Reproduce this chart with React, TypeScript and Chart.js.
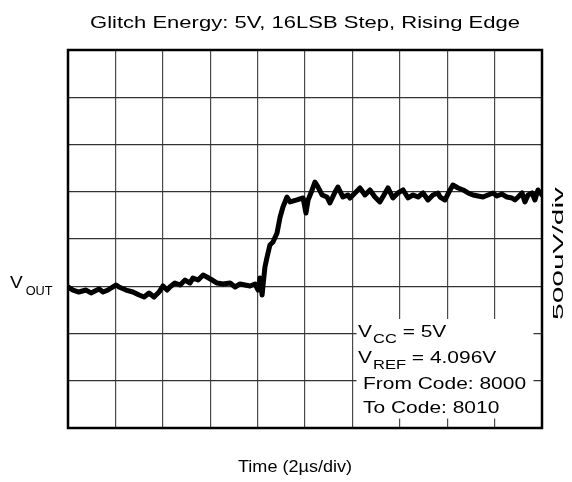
import React, { useEffect, useRef } from "react";
import { Chart, registerables } from "chart.js";

Chart.register(...registerables);

// Time axis in µs (2 µs/div), voltage in µV (500 µV/div)
const timeUs: number[] = [
  0.0, 0.21, 0.46, 0.76, 0.97, 1.31, 1.48, 1.69, 1.81, 2.03, 2.15, 2.45, 2.74, 3.0, 3.21, 3.42, 3.63, 3.84,
  4.01, 4.18, 4.3, 4.51, 4.73, 4.94, 5.15, 5.27, 5.49, 5.7, 5.86, 6.08, 6.29, 6.54, 6.84, 7.05, 7.26, 7.47,
  7.68, 7.89, 8.02, 8.1, 8.19, 8.23, 8.31, 8.4, 8.52, 8.65, 8.82, 8.95, 9.07, 9.24, 9.37, 9.66, 9.92, 10.04,
  10.13, 10.3, 10.42, 10.55, 10.72, 10.93, 11.05, 11.27, 11.39, 11.6, 11.81, 11.9, 12.11, 12.32, 12.53, 12.74,
  12.95, 13.16, 13.38, 13.5, 13.71, 13.92, 14.14, 14.35, 14.56, 14.77, 14.98, 15.19, 15.4, 15.61, 15.7, 15.91,
  16.12, 16.24, 16.46, 16.67, 16.88, 17.09, 17.3, 17.51, 17.72, 17.93, 18.1, 18.31, 18.52, 18.73, 18.86, 18.99,
  19.16, 19.28, 19.41, 19.58, 19.7, 19.83, 20.0,
];
const voutUv: number[] = [
  -508, -540, -561, -540, -571, -529, -561, -540, -519, -487, -508, -540, -561, -593, -614, -571, -614, -561,
  -497, -540, -508, -466, -487, -434, -466, -413, -434, -381, -402, -434, -466, -476, -466, -508, -476, -487,
  -497, -476, -540, -413, -593, -487, -296, -190, -63, -32, 63, 233, 339, 444, 392, 413, 434, 275,
  413, 519, 603, 550, 466, 444, 381, 497, 550, 444, 466, 434, 487, 540, 466, 519,
  444, 392, 487, 540, 434, 487, 519, 434, 466, 444, 487, 413, 466, 487, 444, 413,
  519, 571, 540, 519, 487, 466, 455, 444, 466, 487, 455, 476, 444, 434, 413, 444,
  487, 392, 466, 487, 413, 519, 466,
];

const xMin = 0;
const xMax = 20;
const xStep = 2;
const yMin = -2000;
const yMax = 2000;
const yStep = 500;

const titleText = "Glitch Energy: 5V, 16LSB Step, Rising Edge";
const xLabel = "Time (2µs/div)";
const yRightLabel = "500uV/div";
const noteLines: { main: string; sub: string; rest: string }[] = [
  { main: "V", sub: "CC", rest: " = 5V" },
  { main: "V", sub: "REF", rest: " = 4.096V" },
  { main: "From Code: 8000", sub: "", rest: "" },
  { main: "To Code: 8010", sub: "", rest: "" },
];

const FONT = '"Liberation Sans", Arial, Helvetica, sans-serif';

function fitText(
  ctx: CanvasRenderingContext2D,
  text: string,
  x: number,
  y: number,
  size: number,
  width: number,
  align: "left" | "center"
) {
  ctx.font = `${size}px ${FONT}`;
  const w = ctx.measureText(text).width;
  const sx = width / w;
  ctx.save();
  ctx.translate(x, y);
  ctx.scale(sx, 1);
  ctx.textAlign = "left";
  ctx.textBaseline = "alphabetic";
  ctx.fillText(text, align === "center" ? -w / 2 : 0, 0);
  ctx.restore();
}

function drawRun(
  ctx: CanvasRenderingContext2D,
  text: string,
  x: number,
  y: number,
  size: number,
  sx: number
): number {
  if (!text) return x;
  ctx.font = `${size}px ${FONT}`;
  const w = ctx.measureText(text).width;
  ctx.save();
  ctx.translate(x, y);
  ctx.scale(sx, 1);
  ctx.textAlign = "left";
  ctx.textBaseline = "alphabetic";
  ctx.fillText(text, 0, 0);
  ctx.restore();
  return x + w * sx;
}

const decorPlugin = {
  id: "decor",
  afterDatasetsDraw(chart: any) {
    const ctx: CanvasRenderingContext2D = chart.ctx;
    const a = chart.chartArea;
    ctx.save();
    // note box (white background hiding grid)
    ctx.fillStyle = "#ffffff";
    ctx.fillRect(356.5, 319, 177, 99.5);
    ctx.fillStyle = "#000000";
    const sx = 1.27;
    const baselines = [337, 363, 389, 413];
    noteLines.forEach((ln, i) => {
      const bx = ln.sub ? 358 : 363;
      let cx = drawRun(ctx, ln.main, bx, baselines[i], 16.5, sx);
      if (ln.sub) {
        cx = drawRun(ctx, ln.sub, cx + 1, baselines[i] + 6, 13, sx);
        drawRun(ctx, ln.rest, cx, baselines[i], 16.5, sx);
      }
    });
    // frame
    ctx.strokeStyle = "#000000";
    ctx.lineWidth = 2.5;
    ctx.strokeRect(a.left, a.top, a.right - a.left, a.bottom - a.top);
    // title
    fitText(ctx, titleText, 305, 28, 17, 430, "center");
    // x label
    fitText(ctx, xLabel, 295, 472, 16, 114, "center");
    // VOUT label
    let vx = drawRun(ctx, "V", 10, 288, 17, 1.12);
    drawRun(ctx, "OUT", vx + 3, 295, 13, 0.98);
    // right label rotated
    ctx.save();
    ctx.translate(563, 320);
    ctx.rotate(-Math.PI / 2);
    fitText(ctx, yRightLabel, 0, 0, 15.5, 133, "left");
    ctx.restore();
    ctx.restore();
  },
};

export default function App() {
  const ref = useRef<HTMLCanvasElement | null>(null);
  useEffect(() => {
    if (!ref.current) return;
    const points = timeUs.map((t, i) => ({ x: t, y: voutUv[i] }));
    const chart = new Chart(ref.current, {
      type: "line",
      data: {
        datasets: [
          {
            data: points,
            borderColor: "#000000",
            borderWidth: 5,
            pointRadius: 0,
            tension: 0,
            fill: false,
            borderJoinStyle: "round",
            borderCapStyle: "round",
          },
        ],
      },
      options: {
        responsive: false,
        animation: false,
        layout: { padding: { left: 68, right: 30, top: 50, bottom: 54 } },
        plugins: { legend: { display: false }, title: { display: false }, tooltip: { enabled: false } },
        scales: {
          x: {
            type: "linear",
            min: xMin,
            max: xMax,
            ticks: { display: false, stepSize: xStep },
            grid: { color: "#4a4a4a", lineWidth: 1.2, drawTicks: false },
            border: { display: false },
          },
          y: {
            type: "linear",
            min: yMin,
            max: yMax,
            ticks: { display: false, stepSize: yStep },
            grid: { color: "#333333", lineWidth: 1.2, drawTicks: false },
            border: { display: false },
          },
        },
      },
      plugins: [decorPlugin],
    } as any);
    return () => chart.destroy();
  }, []);
  return (
    <div style={{ position: "absolute", left: 0, top: 0, width: 572, height: 482, background: "#fff" }}>
      <canvas ref={ref} width={572} height={482} style={{ display: "block" }} />
    </div>
  );
}
